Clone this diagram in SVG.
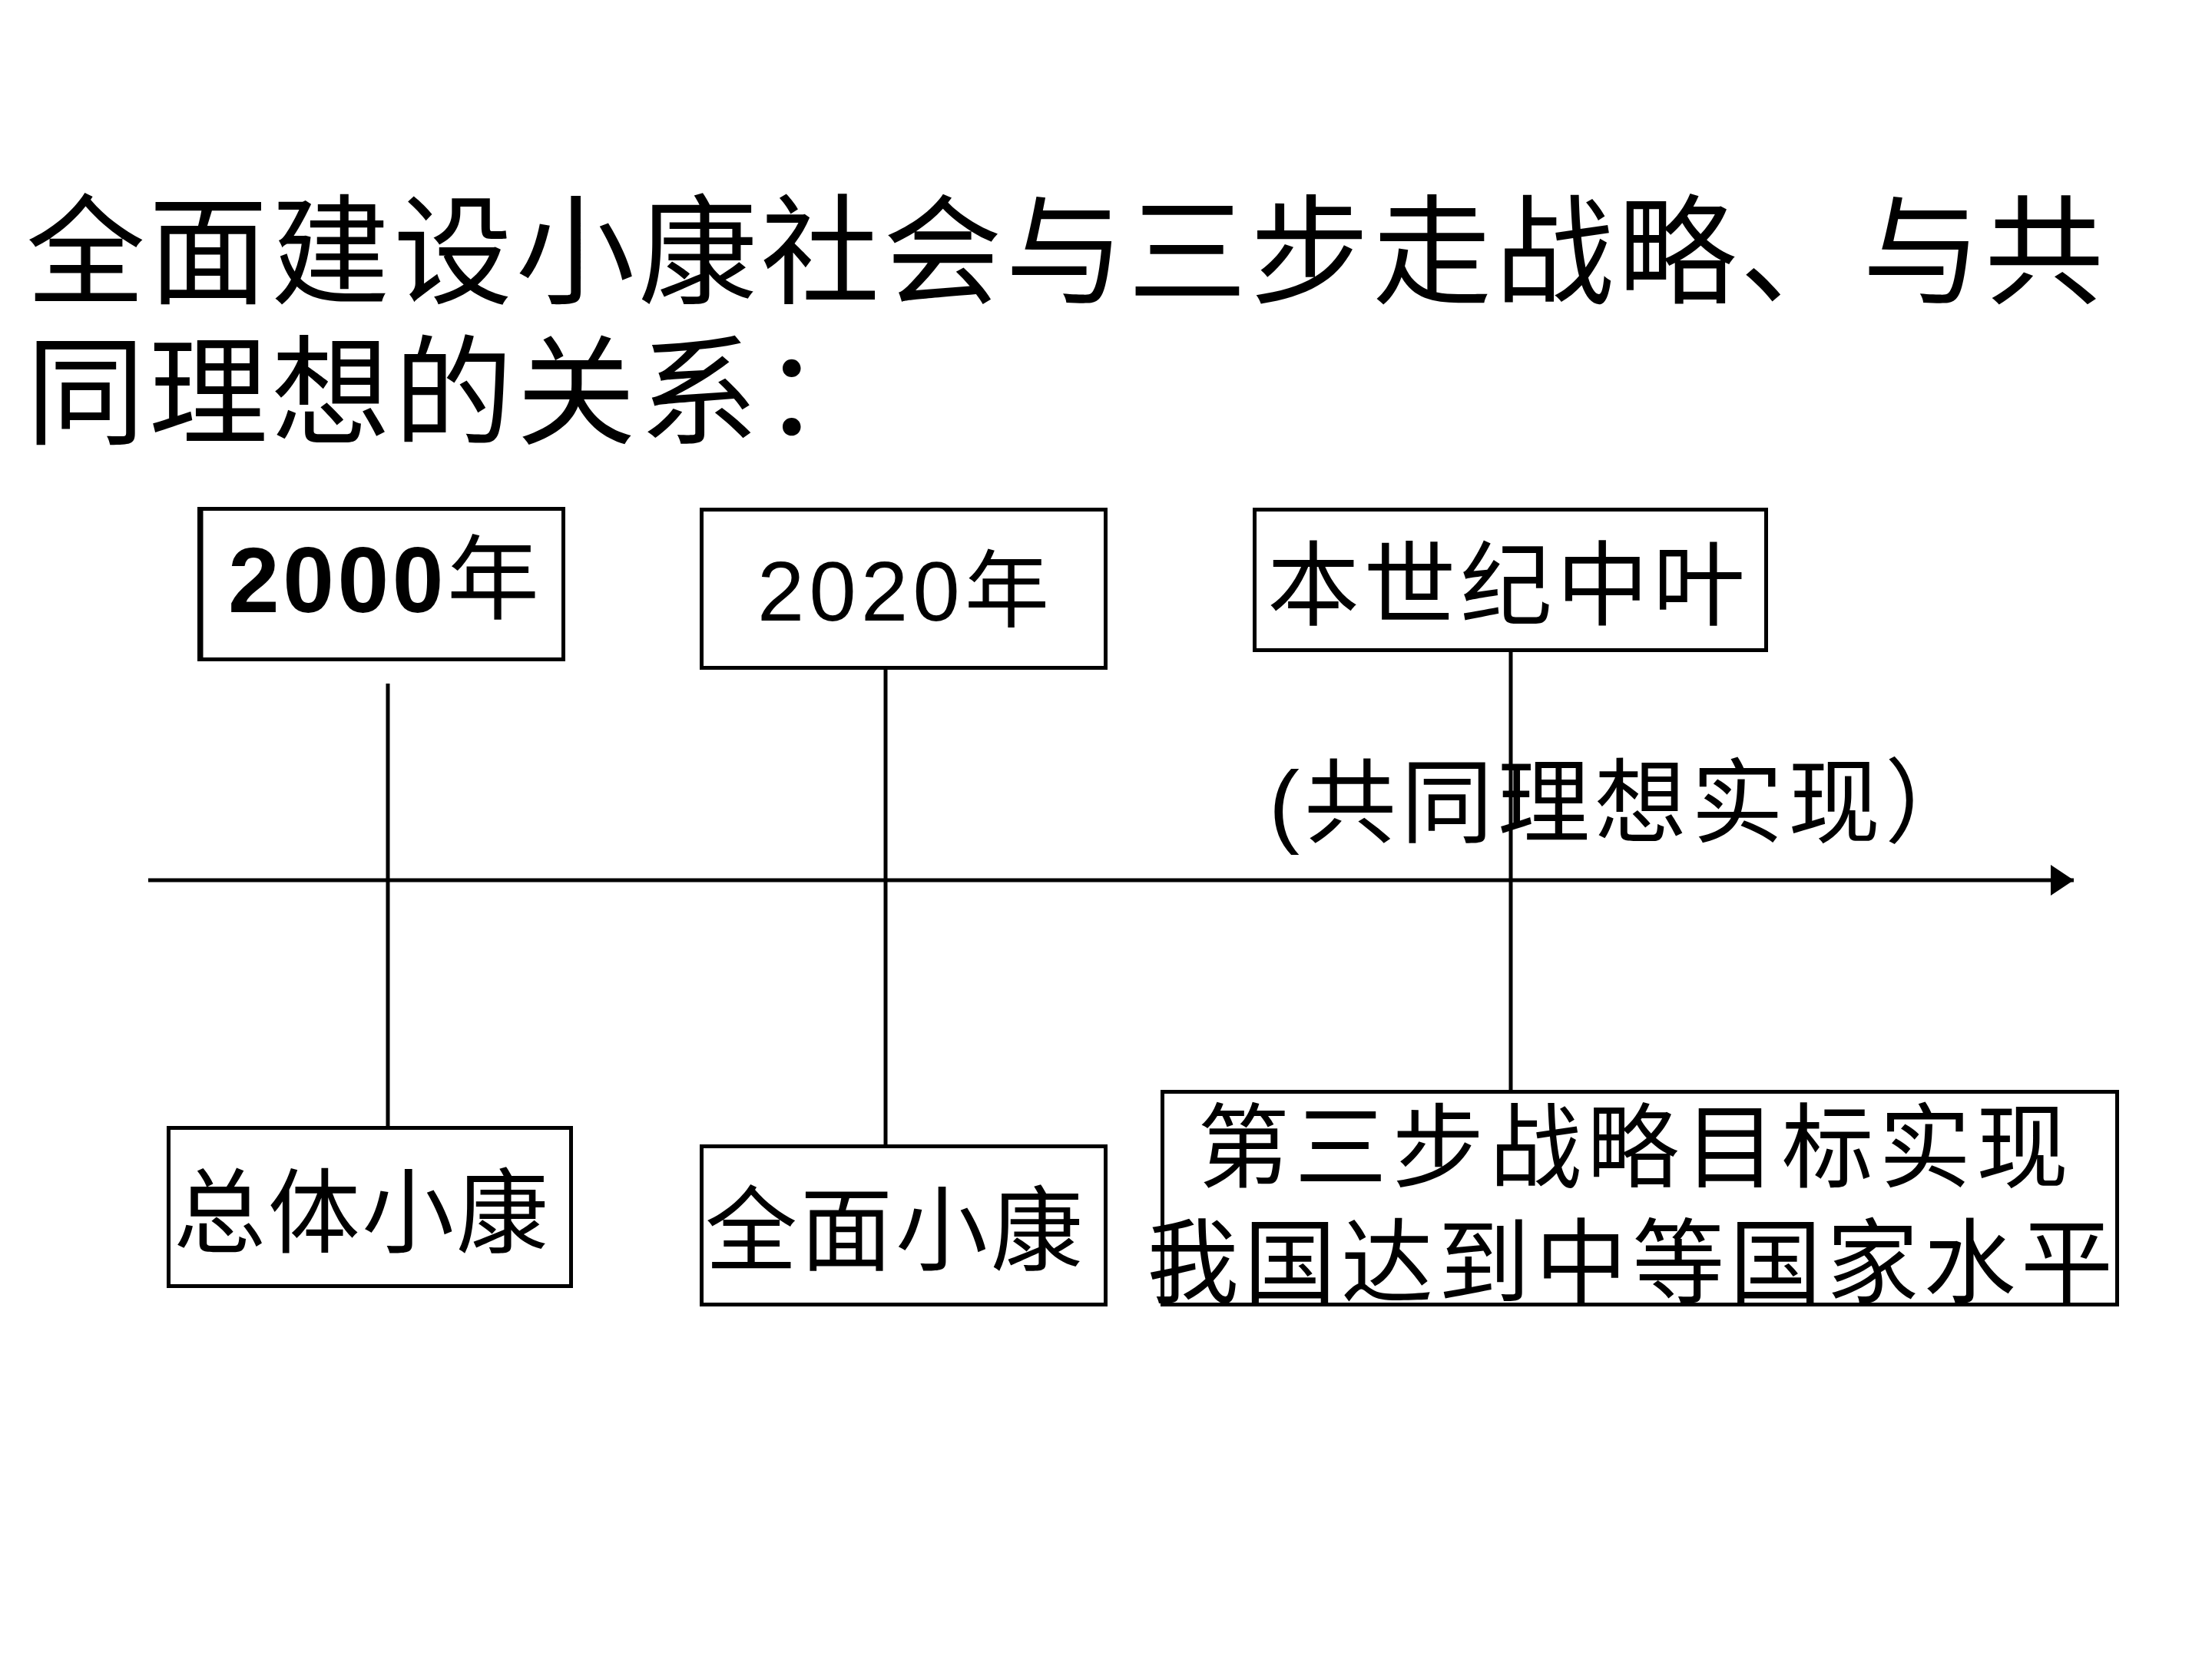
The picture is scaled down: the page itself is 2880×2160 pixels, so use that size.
<svg xmlns="http://www.w3.org/2000/svg" width="2880" height="2160" viewBox="0 0 2880 2160">
<style>
  .bg { fill: #ffffff; }
  .box { fill: #ffffff; stroke: #000000; stroke-width: 5; }
  .ln { stroke: #000000; stroke-width: 5; fill: none; }
  .t { font-family: "Liberation Sans", "Noto Sans CJK SC", sans-serif; fill: #000000; }
  .title { font-size: 155px; }
  .lbl { font-size: 120px; }
</style>
<defs>
  <marker id="arrow" markerWidth="8" markerHeight="8" refX="6" refY="4" orient="auto" markerUnits="strokeWidth">
    <path d="M0,0 L6,4 L0,8 Z" fill="#000000"/>
  </marker>
</defs>
<rect class="bg" x="0" y="0" width="2880" height="2160"/>

<g id="title">
  <text class="t title" x="34" y="383" textLength="2705" lengthAdjust="spacing">全面建设小康社会与三步走战略、与共</text>
  <text class="t title" x="34" y="566" textLength="1113" lengthAdjust="spacing">同理想的关系：</text>
</g>

<g id="connectors">
  <line class="ln" x1="505" y1="890" x2="505" y2="1466"/>
  <line class="ln" x1="1153" y1="872" x2="1153" y2="1490"/>
  <line class="ln" x1="1967" y1="849" x2="1967" y2="1419"/>
  <line class="ln" x1="193" y1="1146" x2="2700" y2="1146" marker-end="url(#arrow)"/>
</g>

<g id="node-2000">
  <rect class="box" x="259.5" y="662.5" width="474" height="196"/>
  <line class="ln" x1="262" y1="660" x2="262" y2="861" stroke-width="10"/>
  <text class="t lbl" x="297" y="797" textLength="405" lengthAdjust="spacing"><tspan font-weight="bold">2000</tspan>年</text>
</g>

<g id="node-2020">
  <rect class="box" x="913.5" y="663.5" width="526" height="206"/>
  <text class="t" font-size="110" x="986" y="808" textLength="380" lengthAdjust="spacing">2020年</text>
</g>

<g id="node-midcentury">
  <rect class="box" x="1633.5" y="663.5" width="666" height="183"/>
  <text class="t lbl" x="1650" y="805" textLength="622" lengthAdjust="spacing">本世纪中叶</text>
</g>

<g id="note-ideal">
  <text class="t lbl" x="1652" y="1088" letter-spacing="6">(共同理想实现）</text>
</g>

<g id="node-overall">
  <rect class="box" x="219.5" y="1468.5" width="524" height="206"/>
  <text class="t lbl" x="226" y="1622" textLength="488" lengthAdjust="spacing">总体小康</text>
</g>

<g id="node-full">
  <rect class="box" x="913.5" y="1492.5" width="526" height="206"/>
  <text class="t lbl" x="918" y="1645" textLength="492" lengthAdjust="spacing">全面小康</text>
</g>

<g id="node-third-step">
  <rect class="box" x="1513.5" y="1421.5" width="1243" height="277"/>
  <text class="t lbl" x="1559" y="1537" textLength="1134" lengthAdjust="spacing">第三步战略目标实现</text>
  <text class="t lbl" x="1493" y="1687" textLength="1258" lengthAdjust="spacing">我国达到中等国家水平</text>
</g>
</svg>
